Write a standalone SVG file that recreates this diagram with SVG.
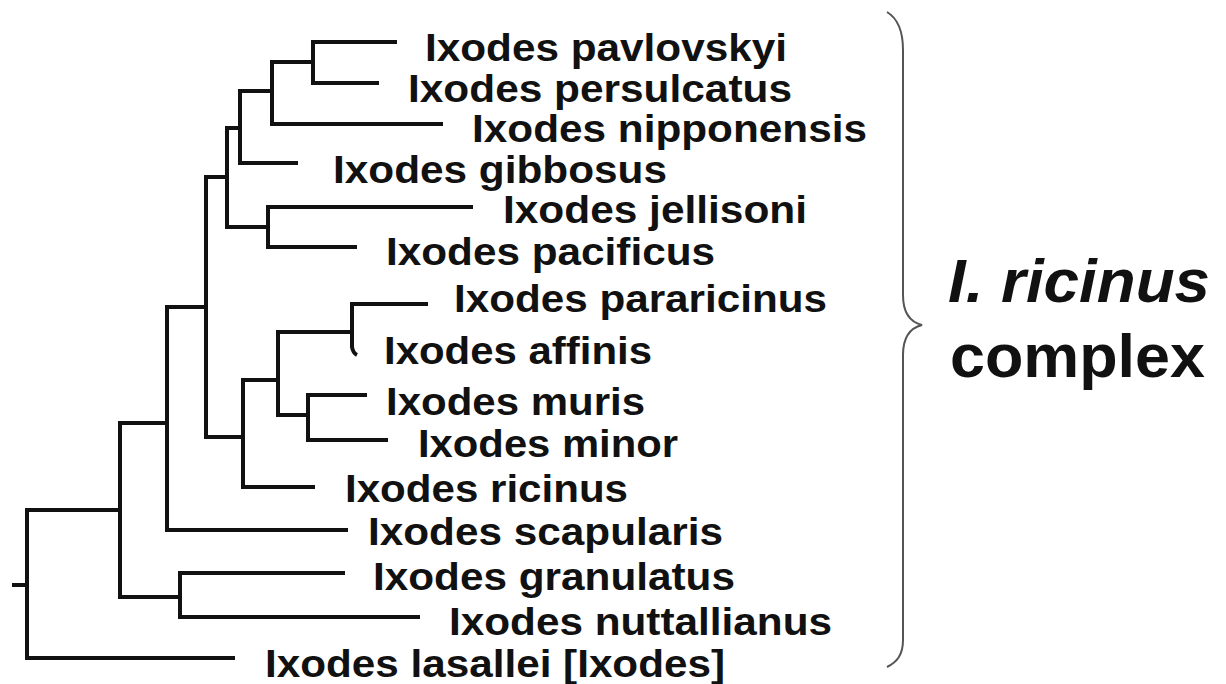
<svg xmlns="http://www.w3.org/2000/svg" width="1226" height="684" viewBox="0 0 1226 684">
<style>
.br{fill:none;stroke:#111;stroke-width:4;stroke-linejoin:miter;stroke-linecap:butt}
.lb{font-family:"Liberation Sans",Arial,Helvetica,sans-serif;font-weight:bold;font-size:38px;fill:#111}
.big{font-family:"Liberation Sans",Arial,Helvetica,sans-serif;font-weight:bold;font-size:61px;fill:#111}
.brace{fill:none;stroke:#555;stroke-width:2}
</style>
<rect width="1226" height="684" fill="#fff"/>
<g id="connectors">
<path class="br" d="M397,42 H313 V83 H379"/>
<path class="br" d="M313,62 H272 V124 H443"/>
<path class="br" d="M272,91 H240 V163 H298"/>
<path class="br" d="M240,128 H227 V227 H268"/>
<path class="br" d="M473,207 H268 V247 H357"/>
<path class="br" d="M227,177 H206 V437 H243"/>
<path class="br" d="M206,307 H167 V530 H348"/>
<path class="br" d="M278,380 H243 V487 H315"/>
<path class="br" d="M352,332 H278 V415 H308"/>
<path class="br" d="M428,304 H352 V347 Q353,353 357,355"/>
<path class="br" d="M367,395 H308 V440 H388"/>
<path class="br" d="M167,423 H120 V597 H180"/>
<path class="br" d="M345,573 H180 V617 H420"/>
<path class="br" d="M120,510 H27 V658 H235"/>
<path class="br" d="M12,585 H27"/>
</g>
<g id="n-pavlovskyi"><text class="lb" x="425" y="61" textLength="362" lengthAdjust="spacingAndGlyphs">Ixodes pavlovskyi</text></g>
<g id="n-persulcatus"><text class="lb" x="408" y="102" textLength="384" lengthAdjust="spacingAndGlyphs">Ixodes persulcatus</text></g>
<g id="n-nipponensis"><text class="lb" x="472" y="142" textLength="395" lengthAdjust="spacingAndGlyphs">Ixodes nipponensis</text></g>
<g id="n-gibbosus"><text class="lb" x="333" y="183" textLength="334" lengthAdjust="spacingAndGlyphs">Ixodes gibbosus</text></g>
<g id="n-jellisoni"><text class="lb" x="503" y="223" textLength="304" lengthAdjust="spacingAndGlyphs">Ixodes jellisoni</text></g>
<g id="n-pacificus"><text class="lb" x="386" y="265" textLength="329" lengthAdjust="spacingAndGlyphs">Ixodes pacificus</text></g>
<g id="n-pararicinus"><text class="lb" x="454" y="312" textLength="373" lengthAdjust="spacingAndGlyphs">Ixodes pararicinus</text></g>
<g id="n-affinis"><text class="lb" x="384" y="364" textLength="268" lengthAdjust="spacingAndGlyphs">Ixodes affinis</text></g>
<g id="n-muris"><text class="lb" x="386" y="415" textLength="259" lengthAdjust="spacingAndGlyphs">Ixodes muris</text></g>
<g id="n-minor"><text class="lb" x="418" y="457" textLength="260" lengthAdjust="spacingAndGlyphs">Ixodes minor</text></g>
<g id="n-ricinus"><text class="lb" x="345" y="502" textLength="283" lengthAdjust="spacingAndGlyphs">Ixodes ricinus</text></g>
<g id="n-scapularis"><text class="lb" x="368" y="545" textLength="355" lengthAdjust="spacingAndGlyphs">Ixodes scapularis</text></g>
<g id="n-granulatus"><text class="lb" x="373" y="590" textLength="362" lengthAdjust="spacingAndGlyphs">Ixodes granulatus</text></g>
<g id="n-nuttallianus"><text class="lb" x="449" y="635" textLength="383" lengthAdjust="spacingAndGlyphs">Ixodes nuttallianus</text></g>
<g id="n-lasallei"><text class="lb" x="265" y="677" textLength="460" lengthAdjust="spacingAndGlyphs">Ixodes lasallei [Ixodes]</text></g>
<g id="brace"><path class="brace" d="M887,12 C897,18 903,30 903,50 L903,295 C903,312 910,322 922,325 C910,328 903,338 903,355 L903,640 C903,655 897,662 887,667"/></g>
<g id="complex-label">
<text class="big" x="948" y="302" font-style="italic" textLength="262" lengthAdjust="spacingAndGlyphs">I. ricinus</text>
<text class="big" x="950" y="377" textLength="255" lengthAdjust="spacingAndGlyphs">complex</text>
</g>
</svg>
